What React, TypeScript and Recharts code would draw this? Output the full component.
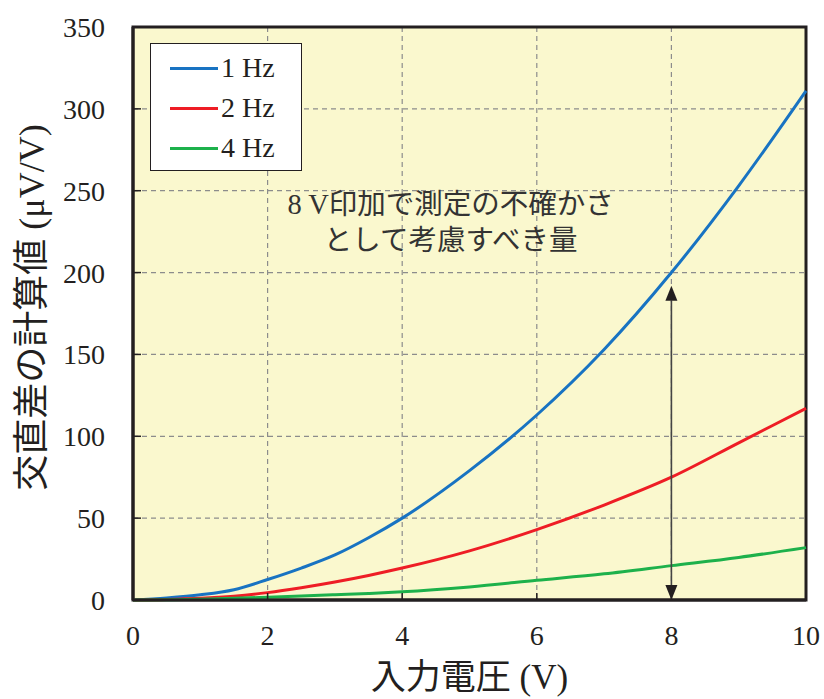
import React from 'react';
import {
  LineChart,
  Line,
  XAxis,
  YAxis,
  CartesianGrid,
  ReferenceLine,
  ReferenceDot,
  ReferenceArea,
} from 'recharts';

// Input voltage (V)
const voltages = [0, 0.5, 1, 1.5, 2, 2.5, 3, 3.5, 4, 5, 6, 7, 8, 9, 10];
// Calculated AC-DC difference (µV/V) per frequency
const hz1 = [0, 1.3, 3.2, 6.3, 12.5, 19.5, 27.5, 38, 50, 79, 113, 153, 200, 253, 311];
const hz2 = [0, 0.3, 1, 2.3, 4.5, 7.5, 11, 15, 19.5, 30, 43, 58, 75, 96, 117];
const hz4 = [0, 0.1, 0.5, 1, 1.7, 2.4, 3.2, 4, 5, 8, 12, 16, 21, 26, 32];

const xTicks = [0, 2, 4, 6, 8, 10];
const yTicks = [0, 50, 100, 150, 200, 250, 300, 350];

const seriesInfo = [
  { key: 'hz1', name: '1 Hz', color: '#1873C2' },
  { key: 'hz2', name: '2 Hz', color: '#EE1D25' },
  { key: 'hz4', name: '4 Hz', color: '#1DB14B' },
];

// Arrow marking the quantity at 8 V
const arrowX = 8;
const arrowFrom = 0;
const arrowTo = 192;

const noteLines = ['8 V印加で測定の不確かさ', 'として考慮すべき量'];

const xTitle = '入力電圧 (V)';
const yTitle = '交直差の計算値 (μV/V)';

const data = voltages.map((v, i) => ({ v, hz1: hz1[i], hz2: hz2[i], hz4: hz4[i] }));

const SERIF = '"Liberation Serif", "Noto Sans CJK JP", serif';
const INK = '#231F20';

const LegendBox = () => (
  <div
    style={{
      position: 'absolute',
      left: 150,
      top: 43,
      width: 152,
      height: 128,
      boxSizing: 'border-box',
      background: '#fff',
      border: `1.5px solid ${INK}`,
      fontFamily: SERIF,
      fontSize: 28,
      color: INK,
    }}
  >
    {seriesInfo.map((s, i) => (
      <div
        key={s.key}
        style={{
          position: 'absolute',
          left: 19,
          top: 7 + i * 40,
          height: 34,
          display: 'flex',
          alignItems: 'center',
          whiteSpace: 'nowrap',
        }}
      >
        <span style={{ display: 'inline-block', width: 48, height: 3, background: s.color, marginRight: 3 }} />
        <span>{s.name}</span>
      </div>
    ))}
  </div>
);

const ArrowShape = (props: any) => {
  const { x1, y1, x2, y2 } = props;
  const top = Math.min(y1, y2);
  const bottom = Math.max(y1, y2);
  const hw = 6;
  const hh = 15;
  return (
    <g>
      <line x1={x1} y1={top + hh} x2={x2} y2={bottom - hh} stroke="#444" strokeWidth={1.6} />
      <polygon points={`${x1},${top} ${x1 - hw},${top + hh} ${x1 + hw},${top + hh}`} fill={INK} />
      <polygon points={`${x1},${bottom} ${x1 - hw},${bottom - hh} ${x1 + hw},${bottom - hh}`} fill={INK} />
    </g>
  );
};

const NoteLabel = (props: any) => {
  const { viewBox } = props;
  const cx = viewBox.x;
  const cy = viewBox.y;
  return (
    <g>
      {noteLines.map((t, i) => (
        <text
          key={i}
          x={cx}
          y={cy + i * 36}
          textAnchor="middle"
          fontFamily={SERIF}
          fontSize={28.5}
          fill="#333"
        >
          {t}
        </text>
      ))}
    </g>
  );
};

const YTitle = (props: any) => {
  const { viewBox } = props;
  const x = viewBox.x - 101;
  const y = viewBox.y + viewBox.height / 2 - 6;
  return (
    <text
      x={x}
      y={y}
      transform={`rotate(-90, ${x}, ${y})`}
      textAnchor="middle"
      dominantBaseline="central"
      fontFamily={SERIF}
      fontSize={36}
      fill={INK}
    >
      {yTitle}
    </text>
  );
};

export default function App() {
  return (
    <div style={{ position: 'absolute', left: 0, top: 0, width: 824, height: 699, background: '#fff' }}>
      <LineChart
        width={824}
        height={699}
        data={data}
        margin={{ top: 27, right: 18, bottom: 0, left: 0 }}
      >
        <CartesianGrid
          fill="#FAF8CE"
          stroke="#8C8C8C"
          strokeDasharray="5 4"
          strokeWidth={1.2}
        />
        <XAxis
          dataKey="v"
          type="number"
          domain={[0, 10]}
          ticks={xTicks}
          height={99}
          axisLine={{ stroke: INK, strokeWidth: 3 }}
          tickLine={{ stroke: INK, strokeWidth: 1.5 }}
          tickSize={-7}
          tickMargin={32}
          tick={{ fill: INK, fontSize: 28, fontFamily: SERIF }}
          label={{
            value: xTitle,
            position: 'insideBottom',
            offset: 10,
            fill: INK,
            fontSize: 35,
            fontFamily: SERIF,
          }}
        />
        <YAxis
          type="number"
          domain={[0, 350]}
          ticks={yTicks}
          width={133}
          axisLine={{ stroke: INK, strokeWidth: 3 }}
          tickLine={{ stroke: INK, strokeWidth: 1.5 }}
          tickSize={-8}
          tickMargin={36}
          tick={{ fill: INK, fontSize: 28, fontFamily: SERIF }}
        />
        <ReferenceArea
          x1={0}
          x2={10}
          y1={0}
          y2={350}
          fill="none"
          stroke={INK}
          strokeWidth={3}
          ifOverflow="visible"
          label={YTitle}
        />
        {seriesInfo.map((s) => (
          <Line
            key={s.key}
            type="monotone"
            dataKey={s.key}
            name={s.name}
            stroke={s.color}
            strokeWidth={3}
            dot={false}
            isAnimationActive={false}
          />
        ))}
        <ReferenceLine
          segment={[
            { x: arrowX, y: arrowFrom },
            { x: arrowX, y: arrowTo },
          ]}
          stroke="#444"
          shape={ArrowShape}
        />
        <ReferenceDot
          x={4.72}
          y={236}
          r={0}
          fill="none"
          stroke="none"
          label={NoteLabel}
        />
      </LineChart>
      <LegendBox />
    </div>
  );
}
